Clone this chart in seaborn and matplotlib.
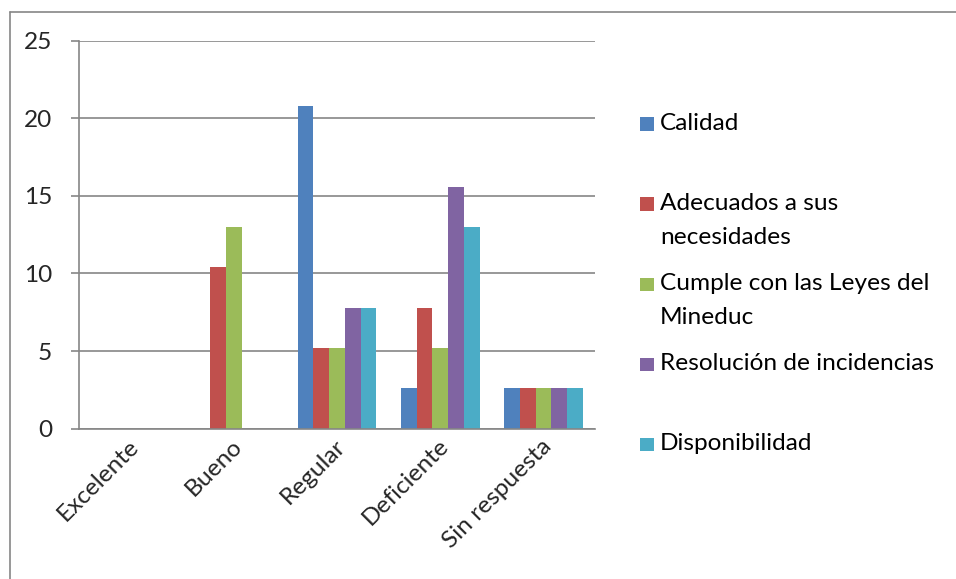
import matplotlib
matplotlib.use("Agg")
import matplotlib.pyplot as plt
import matplotlib.transforms as mtransforms
from matplotlib.lines import Line2D
from matplotlib.patches import Rectangle
import seaborn as sns
import pandas as pd

# Survey ratings (percent of responses) per aspect
categories = ["Excelente", "Bueno", "Regular", "Deficiente", "Sin respuesta"]
series = ["Calidad", "Adecuados a sus necesidades", "Cumple con las Leyes del Mineduc",
          "Resolución de incidencias", "Disponibilidad"]
legend_labels = ["Calidad", "Adecuados a sus\nnecesidades", "Cumple con las Leyes del\nMineduc",
                 "Resolución de incidencias", "Disponibilidad"]
calidad = [0, 0, 20.8, 2.6, 2.6]
adecuados = [0, 10.4, 5.2, 7.8, 2.6]
cumple = [0, 13.0, 5.2, 5.2, 2.6]
resolucion = [0, 0, 7.8, 15.6, 2.6]
disponibilidad = [0, 0, 7.8, 13.0, 2.6]
y_ticks = [0, 5, 10, 15, 20, 25]

colors = ["#4F81BD", "#C0504D", "#9BBB59", "#8064A2", "#4BACC6"]
grid_color = "#868686"

values = [calidad, adecuados, cumple, resolucion, disponibilidad]
rows = []
for name, vals in zip(series, values):
    for cat, v in zip(categories, vals):
        rows.append({"categoria": cat, "serie": name, "valor": v})
df = pd.DataFrame(rows)

sns.set_theme(style="white")
plt.rcParams["font.family"] = ["Lato", "DejaVu Sans"]
FS = 17.6

W, H = 956, 579
fig = plt.figure(figsize=(W / 100, H / 100), dpi=100)
ax = fig.add_axes([78.7 / W, 1 - 428.7 / H, 516.5 / W, 388.0 / H])

sns.barplot(data=df, x="categoria", y="valor", hue="serie", order=categories,
            hue_order=series, palette=colors, width=0.76, gap=0, saturation=1,
            linewidth=0, legend=False, ax=ax)

ax.set_xlim(-0.5, len(categories) - 0.5)
ax.set_ylim(0, 25)
ax.set_yticks(y_ticks)
ax.set_yticklabels([str(t) for t in y_ticks], fontsize=FS)
ax.yaxis.grid(True, color=grid_color, linewidth=1.2)
ax.set_axisbelow(True)
ax.set_xlabel("")
ax.set_ylabel("")

# Category boundary ticks below the axis
ax.set_xticks([i - 0.5 for i in range(len(categories) + 1)], minor=True)
ax.tick_params(axis="x", which="minor", length=6, width=1.2, color=grid_color, direction="out")
ax.set_xticks(range(len(categories)))
ax.set_xticklabels(categories, fontsize=FS, rotation=45, ha="right", va="center",
                   rotation_mode="anchor")
ax.tick_params(axis="x", which="major", length=0, pad=10)
offset = mtransforms.ScaledTranslation(5 / 100, 0, fig.dpi_scale_trans)
for lbl in ax.get_xticklabels():
    lbl.set_transform(lbl.get_transform() + offset)
ax.tick_params(axis="y", length=6, width=1.2, color=grid_color, direction="out", pad=13,
               left=True)

for side in ["top", "right"]:
    ax.spines[side].set_visible(False)
for side in ["left", "bottom"]:
    ax.spines[side].set_color(grid_color)
    ax.spines[side].set_linewidth(1.2)

# Legend drawn to the right of the plot area
for i, (lab, col) in enumerate(zip(legend_labels, colors)):
    yc = 124 + 80 * i
    fig.patches.append(Rectangle((640 / W, 1 - (yc + 6.5) / H), 14 / W, 13 / H,
                                 transform=fig.transFigure, facecolor=col,
                                 edgecolor="none"))
    for j, line in enumerate(lab.split("\n")):
        fig.text(660 / W, 1 - (yc + 33 * j) / H, line, fontsize=FS, ha="left",
                 va="center", color="black")

# Chart frame
fig.add_artist(Line2D([9.5 / W, 1], [1 - 11.5 / H, 1 - 11.5 / H], transform=fig.transFigure,
                      color=grid_color, linewidth=1.2))
fig.add_artist(Line2D([9.5 / W, 9.5 / W], [0, 1 - 11.5 / H], transform=fig.transFigure,
                      color=grid_color, linewidth=1.2))

fig.savefig("out.png", dpi=100)
